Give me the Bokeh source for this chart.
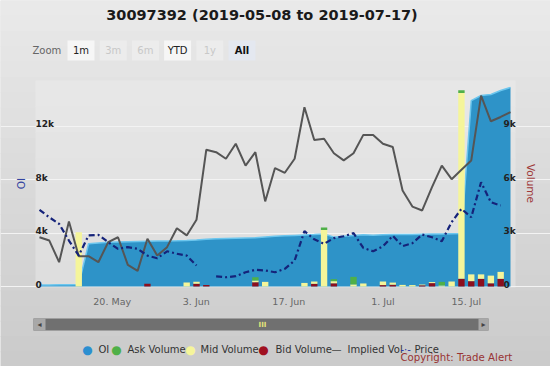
from bokeh.plotting import figure
from bokeh.models import Range1d, LinearAxis, FixedTicker, Label, BoxAnnotation, ColumnDataSource
from bokeh.core.properties import value
from bokeh.embed import file_html
from bokeh.resources import INLINE

# ---------------- data ----------------
dates = ["2019-05-08", "2019-05-09", "2019-05-10", "2019-05-13", "2019-05-14", "2019-05-15",
         "2019-05-16", "2019-05-17", "2019-05-20", "2019-05-21", "2019-05-22", "2019-05-23",
         "2019-05-24", "2019-05-28", "2019-05-29", "2019-05-30", "2019-05-31",
         "2019-06-03", "2019-06-04", "2019-06-05", "2019-06-06", "2019-06-07", "2019-06-10",
         "2019-06-11", "2019-06-12", "2019-06-13", "2019-06-14", "2019-06-17", "2019-06-18",
         "2019-06-19", "2019-06-20", "2019-06-21", "2019-06-24", "2019-06-25", "2019-06-26",
         "2019-06-27", "2019-06-28",
         "2019-07-01", "2019-07-02", "2019-07-03", "2019-07-05", "2019-07-08", "2019-07-09",
         "2019-07-10", "2019-07-11", "2019-07-12", "2019-07-15", "2019-07-16", "2019-07-17"]

oi = [120, 120, 130, 140, 150, 3200, 3260, 3300, 3330, 3350, 3370, 3390, 3400, 3410, 3420,
      3440, 3470, 3540, 3570, 3590, 3610, 3630, 3650, 3700, 3750, 3790, 3820, 3850, 3880,
      3930, 3690, 3760, 3820, 3860, 3840, 3860, 3880, 3890, 3880, 3900, 3920, 3930, 3950,
      3970, 13900, 14280, 14350, 14650, 14880]

ask_volume = [0, 0, 0, 0, 0, 0, 0, 0, 0, 0, 0, 0, 0, 0, 0, 0, 0, 0, 0, 0, 0, 0, 180, 0, 0,
              0, 0, 0, 0, 140, 110, 0, 420, 0, 0, 0, 0, 0, 0, 0, 0, 200, 0, 160, 0, 0, 0, 0, 0]
mid_volume = [0, 0, 0, 0, 3040, 0, 0, 0, 0, 0, 0, 0, 0, 0, 0, 220, 110, 0, 0, 0, 0, 0, 100,
              260, 0, 0, 0, 200, 130, 3170, 120, 0, 120, 170, 0, 200, 120, 90, 80, 40, 60, 60,
              280, 10420, 380, 250, 430, 390, 0]
bid_volume = [0, 0, 0, 0, 0, 0, 0, 0, 0, 0, 0, 150, 0, 0, 0, 0, 160, 90, 0, 0, 0, 0, 240, 0,
              0, 0, 0, 0, 150, 0, 180, 0, 0, 0, 0, 80, 100, 0, 0, 70, 190, 0, 0, 430, 300, 430,
              180, 430, 0]

implied_vol = [23.9, 22.3, 11.8, 31.6, 14.7, 14.7, 11.8, 21.5, 23.9, 10.5, 7.6, 23.2, 15.0,
               19.1, 28.3, 24.8, 32.4, 66.4, 65.2, 62.0, 69.3, 58.7, 65.2, 41.3, 57.5, 55.2,
               62.0, 87.0, 71.1, 71.7, 64.7, 61.2, 64.7, 73.6, 73.6, 69.3, 67.7, 46.6, 38.8,
               36.9, 48.2, 58.7, 52.1, 56.7, 61.2, 92.7, 80.2, 82.3, 84.6]

nan = float("nan")
price = [37.2, 33.6, 30.4, 22.3, 15.0, 24.8, 25.1, 21.5, 18.3, 19.1, 18.3, 15.0, 13.7, 17.1,
         15.9, 15.0, 10.2, nan, 4.9, 4.5, 5.0, 6.9, 8.1, 7.8, 6.9, 8.6, 12.6, 26.9, 22.9, 20.7,
         23.5, 24.4, 25.9, 18.7, 17.1, 19.5, 24.6, 19.6, 21.0, 25.2, 23.9, 22.0, 31.2, 37.7,
         33.6, 50.6, 40.9, 39.3, nan]

oi_ticks = [0, 4000, 8000, 12000]
oi_tick_labels = ["0", "4k", "8k", "12k"]
vol_ticks = [0, 3000, 6000, 9000]
vol_tick_labels = ["0", "3k", "6k", "9k"]
date_tick_pos = [7.41, 15.98, 25.41, 35.0, 43.5]
date_tick_labels = ["20. May", "3. Jun", "17. Jun", "1. Jul", "15. Jul"]

title_text = "30097392 (2019-05-08 to 2019-07-17)"
zoom_buttons = ["1m", "3m", "6m", "YTD", "1y", "All"]
zoom_enabled = [True, False, False, True, False, True]
legend_names = ["OI", "Ask Volume", "Mid Volume", "Bid Volume", "Implied Vol", "Price"]
copyright_text = "Copyright: Trade Alert"

idx = list(range(len(dates)))

# ---------------- figure (frame spans the whole canvas) ----------------
W, H = 550, 366
PL, PR, PT, PB = 35, 515, 80, 286          # plot-area edges in canvas pixels
X0, DX = 39.0, 9.8125                     # first point / spacing in pixels
OI_PER_PX = 4000 / 53.5
VOL_PER_PX = 3000 / 53.5
PCT_PER_PX = 1 / 2.06

X_START = (PL - X0) / DX
X_END = (PR - X0) / DX

p = figure(width=W, height=H, output_backend="svg", toolbar_location=None,
           x_range=Range1d((0 - X0) / DX, (W - X0) / DX),
           y_range=Range1d((PB - H) * OI_PER_PX, PB * OI_PER_PX),
           min_border_left=0, min_border_right=0, min_border_top=0, min_border_bottom=0,
           background_fill_color="#dadada", border_fill_color="#dadada",
           outline_line_color=None)
p.extra_y_ranges = {
    "vol": Range1d((PB - H) * VOL_PER_PX, PB * VOL_PER_PX),
    "iv": Range1d((PB - H) * PCT_PER_PX, PB * PCT_PER_PX),
    "px": Range1d((PB - H) * PCT_PER_PX, PB * PCT_PER_PX),
}

FONT = "DejaVu Sans"


def cbox(l, r, t, b, color, level="annotation"):
    p.add_layout(BoxAnnotation(left=l, right=r, top=t, bottom=b,
                               left_units="canvas", right_units="canvas",
                               top_units="canvas", bottom_units="canvas",
                               fill_color=color, fill_alpha=1.0, line_color=None,
                               level=level))


def lab(x, y, text, size, color, style="normal", align="left", font=FONT):
    p.add_layout(Label(x=x, y=y, x_units="canvas", y_units="canvas", text=text,
                       text_font=font, text_font_size=f"{size}px", text_color=color,
                       text_font_style=style, text_align=align, text_baseline="middle"))


# background gradient (outer) and plot-area background
N = 24
for i in range(N):
    c = int(round(233 - (233 - 203) * i / (N - 1)))
    cbox(0, W, H * i / N, H * (i + 1) / N + 1, "#%02x%02x%02x" % (c, c, c), level="image")
M = 8
for i in range(M):
    c = int(round(231 - (231 - 222) * i / (M - 1)))
    t = PT + (PB - PT) * i / M
    cbox(PL, PR, t, PT + (PB - PT) * (i + 1) / M + 1, "#%02x%02x%02x" % (c, c, c), level="image")

# axes (fixed inside the frame, so they take no extra room)
p.xaxis.fixed_location = 0
p.xaxis.ticker = FixedTicker(ticks=date_tick_pos)
p.xaxis.major_label_overrides = {t: l for t, l in zip(date_tick_pos, date_tick_labels)}
p.xaxis.axis_line_color = None
p.xaxis.major_tick_line_color = None
p.xaxis.minor_tick_line_color = None
p.xaxis.major_tick_out = 0
p.xaxis.major_label_standoff = 9
p.xaxis.major_label_text_font = FONT
p.xaxis.major_label_text_font_size = "9.5px"
p.xaxis.major_label_text_color = "#666666"

p.yaxis.fixed_location = X_START
p.yaxis.ticker = FixedTicker(ticks=[])
p.yaxis.axis_line_color = None
p.yaxis.major_tick_out = 0
p.yaxis.minor_tick_line_color = None
p.yaxis.major_label_standoff = 0
p.yaxis.axis_label = "OI"
p.yaxis.axis_label_standoff = 9
p.yaxis.axis_label_text_font = FONT
p.yaxis.axis_label_text_font_style = "normal"
p.yaxis.axis_label_text_font_size = "10.5px"
p.yaxis.axis_label_text_color = "#3344a0"

ry = LinearAxis(y_range_name="vol", ticker=FixedTicker(ticks=[]), axis_label="Volume",
                fixed_location=X_END)
ry.axis_line_color = None
ry.major_tick_out = 0
ry.minor_tick_line_color = None
ry.major_label_standoff = 0
ry.axis_label_standoff = 9
ry.axis_label_text_font = FONT
ry.axis_label_text_font_style = "normal"
ry.axis_label_text_font_size = "10.5px"
ry.axis_label_text_color = "#a03a3a"
p.add_layout(ry, "right")

p.xgrid.visible = False
p.ygrid.ticker = FixedTicker(ticks=oi_ticks)
p.ygrid.bounds = (X_START, X_END)
p.ygrid.grid_line_color = "#f3f3f3"
p.ygrid.grid_line_width = 1

# ---------------- series ----------------
p.varea(x=idx, y1=[0] * len(idx), y2=oi, fill_color="#2e93c8")
p.line(idx, oi, line_color="#6cc6ee", line_width=1.5)

src = ColumnDataSource(dict(idx=idx, bid=bid_volume, mid=mid_volume, ask=ask_volume))
p.vbar_stack(["bid", "mid", "ask"], x="idx", width=0.65, source=src, y_range_name="vol",
             color=["#8c0f1e", "#f5f59a", "#4fb048"], line_color=None)

p.line(idx, implied_vol, y_range_name="iv", line_color="#555555", line_width=2)
p.line(idx, price, y_range_name="px", line_color="#15237a", line_width=2.2, line_dash="6 3 2 3")

# y tick labels drawn inside the plot area (as in the original)
p.text(x=[X_START] * len(oi_ticks), y=oi_ticks, text=oi_tick_labels,
       text_font=value(FONT), text_font_style="bold", text_font_size="9px",
       text_color="#222222", text_align="left", text_baseline="alphabetic",
       x_offset=0, y_offset=-2)
p.text(x=[X_END] * len(vol_ticks), y=vol_ticks, text=vol_tick_labels, y_range_name="vol",
       text_font=value(FONT), text_font_style="bold", text_font_size="9px",
       text_color="#222222", text_align="left", text_baseline="alphabetic",
       x_offset=-12, y_offset=-2)

# ---------------- chrome (title, buttons, scrollbar, legend) ----------------
lab(261.5, 14, title_text, 14.5, "#1a1a1a", style="bold", align="center")

lab(32, 50, "Zoom", 10, "#666666")
bx = 67
for name, en in zip(zoom_buttons, zoom_enabled):
    if name == "All":
        bg, fg, st = "#e4e8f0", "#111111", "bold"
    elif en:
        bg, fg, st = "#f6f6f6", "#222222", "normal"
    else:
        bg, fg, st = "#ececec", "#c8c8c8", "normal"
    cbox(bx, bx + 27, 40, 60, bg)
    lab(bx + 13.5, 50, name, 10, fg, style=st, align="center")
    bx += 32.2

# scrollbar
cbox(33, 488, 318, 330, "#707070")
cbox(33, 45, 318, 330, "#a8a8a8")
cbox(478, 488, 318, 330, "#a8a8a8")
lab(39, 324, "\u25c2", 8, "#444444", align="center")
lab(483, 324, "\u25b8", 8, "#444444", align="center")
lab(262, 324, "III", 7, "#e6e67a", style="bold", align="center")

# legend
LY = 349
lab(87, LY, "\u25cf", 12, "#2b8fd0", align="center")
lab(98, LY, legend_names[0], 10, "#333333")
lab(116, LY, "\u25cf", 12, "#4fb048", align="center")
lab(127, LY, legend_names[1], 10, "#333333")
lab(190, LY, "\u25cf", 12, "#f5f59a", align="center")
lab(200, LY, legend_names[2], 10, "#333333")
lab(263, LY, "\u25cf", 12, "#a01020", align="center")
lab(275, LY, legend_names[3], 10, "#333333")
lab(331, LY, "\u2014", 10, "#444444")
lab(347, LY, legend_names[4], 10, "#333333")
lab(400, LY, "-\u00b7-", 10, "#2233aa")
lab(414, LY, legend_names[5], 10, "#333333")
lab(400, 357, copyright_text, 10.2, "#993333")

open("out.html", "w").write(file_html(p, INLINE))
